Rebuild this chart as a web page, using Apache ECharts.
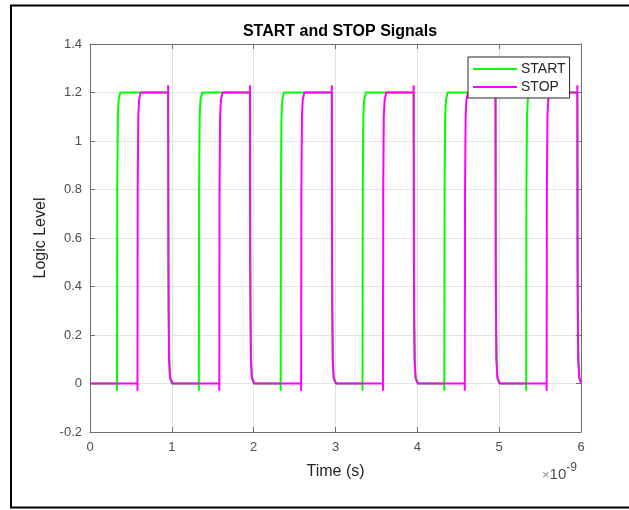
<!DOCTYPE html>
<html>
<head>
<meta charset="utf-8">
<script src="https://cdn.jsdelivr.net/npm/echarts@6/dist/echarts.min.js"></script>
<style>
  html, body { margin: 0; padding: 0; background: #fff; }
  #chart { width: 629px; height: 510px; }
</style>
</head>
<body>
<div id="chart"></div>
<script>
// time in ns (axis shows x10^-9 s), level in V
const startWave = [
  [0, 0],
  [0.33, 0], [0.33, -0.03], [0.333, 0.8], [0.34, 1.1], [0.35, 1.17], [0.37, 1.2], [0.955, 1.2], [0.96, 0.3], [0.975, 0.03], [1.0, 0],
  [1.33, 0], [1.33, -0.03], [1.333, 0.8], [1.34, 1.1], [1.35, 1.17], [1.37, 1.2], [1.955, 1.2], [1.96, 0.3], [1.975, 0.03], [2.0, 0],
  [2.33, 0], [2.33, -0.03], [2.333, 0.8], [2.34, 1.1], [2.35, 1.17], [2.37, 1.2], [2.955, 1.2], [2.96, 0.3], [2.975, 0.03], [3.0, 0],
  [3.33, 0], [3.33, -0.03], [3.333, 0.8], [3.34, 1.1], [3.35, 1.17], [3.37, 1.2], [3.955, 1.2], [3.96, 0.3], [3.975, 0.03], [4.0, 0],
  [4.33, 0], [4.33, -0.03], [4.333, 0.8], [4.34, 1.1], [4.35, 1.17], [4.37, 1.2], [4.955, 1.2], [4.96, 0.3], [4.975, 0.03], [5.0, 0],
  [5.33, 0], [5.33, -0.03], [5.333, 0.8], [5.34, 1.1], [5.35, 1.17], [5.37, 1.2], [5.955, 1.2], [5.96, 0.3], [5.975, 0.03], [6.0, 0]
]

const stopWave = [
  [0, 0],
  [0.58, 0], [0.58, -0.03], [0.583, 0.8], [0.59, 1.1], [0.6, 1.17], [0.62, 1.2], [0.955, 1.2], [0.955, 1.23], [0.958, 0.5], [0.965, 0.1], [0.98, 0.02], [1.01, 0],
  [1.58, 0], [1.58, -0.03], [1.583, 0.8], [1.59, 1.1], [1.6, 1.17], [1.62, 1.2], [1.955, 1.2], [1.955, 1.23], [1.958, 0.5], [1.965, 0.1], [1.98, 0.02], [2.01, 0],
  [2.58, 0], [2.58, -0.03], [2.583, 0.8], [2.59, 1.1], [2.6, 1.17], [2.62, 1.2], [2.955, 1.2], [2.955, 1.23], [2.958, 0.5], [2.965, 0.1], [2.98, 0.02], [3.01, 0],
  [3.58, 0], [3.58, -0.03], [3.583, 0.8], [3.59, 1.1], [3.6, 1.17], [3.62, 1.2], [3.955, 1.2], [3.955, 1.23], [3.958, 0.5], [3.965, 0.1], [3.98, 0.02], [4.01, 0],
  [4.58, 0], [4.58, -0.03], [4.583, 0.8], [4.59, 1.1], [4.6, 1.17], [4.62, 1.2], [4.955, 1.2], [4.955, 1.23], [4.958, 0.5], [4.965, 0.1], [4.98, 0.02], [5.01, 0],
  [5.58, 0], [5.58, -0.03], [5.583, 0.8], [5.59, 1.1], [5.6, 1.17], [5.62, 1.2], [5.955, 1.2], [5.955, 1.23], [5.958, 0.5], [5.965, 0.1], [5.98, 0.02], [6.01, 0]
]

const seriesNames = ['START', 'STOP']
const seriesColors = ['#00ff00', '#ff00ff']

const font = 'Liberation Sans, Arial, Helvetica, sans-serif'
const boxColor = '#6e6e6e'
const gridColor = '#e3e3e3'
const labelColor = '#4d4d4d'

const fmt = v => String(Math.round(v * 10) / 10)

const chart = echarts.init(document.getElementById('chart'))

const xBase = {
  type: 'value', min: 0, max: 6, interval: 1,
  axisLine: { onZero: false, lineStyle: { color: boxColor, width: 1 } },
  axisTick: { inside: true, length: 5, lineStyle: { color: boxColor } },
  splitLine: { show: false }
}
const yBase = {
  type: 'value', min: -0.2, max: 1.4, interval: 0.2,
  axisLine: { show: true, onZero: false, lineStyle: { color: boxColor, width: 1 } },
  axisTick: { show: true, inside: true, length: 5, lineStyle: { color: boxColor } },
  splitLine: { show: false }
}

chart.setOption({
  animation: false,
  backgroundColor: '#fff',
  title: {
    text: 'START and STOP Signals',
    left: 335, top: 19, textAlign: 'center',
    textStyle: { fontFamily: font, fontSize: 16, fontWeight: 'bold', color: '#000' }
  },
  grid: { left: 90, right: 48, top: 44, bottom: 78, containLabel: false },
  legend: {
    data: seriesNames,
    orient: 'vertical',
    left: 468, top: 57,
    padding: [5, 4, 4, 5],
    itemGap: 4,
    itemWidth: 44, itemHeight: 2,
    icon: 'rect',
    borderColor: '#262626', borderWidth: 1,
    backgroundColor: '#fff',
    textStyle: { fontFamily: font, fontSize: 14, color: '#262626', padding: [0, 0, 0, -1] }
  },
  xAxis: [
    Object.assign({}, xBase, {
      position: 'bottom',
      name: 'Time (s)', nameLocation: 'middle', nameGap: 32,
      nameTextStyle: { fontFamily: font, fontSize: 16, color: '#262626' },
      axisLabel: { fontFamily: font, fontSize: 13, color: labelColor, margin: 9, formatter: fmt },
      splitLine: { show: true, lineStyle: { color: gridColor, width: 1 } }
    }),
    Object.assign({}, xBase, { position: 'top', axisLabel: { show: false } })
  ],
  yAxis: [
    Object.assign({}, yBase, {
      position: 'left',
      name: 'Logic Level', nameLocation: 'middle', nameGap: 36,
      nameTextStyle: { fontFamily: font, fontSize: 16, color: '#262626' },
      axisLabel: { fontFamily: font, fontSize: 13, color: labelColor, margin: 8, formatter: fmt },
      splitLine: { show: true, lineStyle: { color: gridColor, width: 1 } }
    }),
    Object.assign({}, yBase, { position: 'right', axisLabel: { show: false } })
  ],
  graphic: [
    {
      type: 'rect', z: 100, silent: true,
      shape: { x: 11, y: 5.5, width: 640, height: 502 },
      style: { fill: 'none', stroke: '#000', lineWidth: 2 }
    },
    {
      type: 'text', left: 542, top: 462, silent: true,
      style: {
        text: '{a|×}{b|10}{c|-9}',
        rich: {
          a: { fontFamily: font, fontSize: 13, fill: '#8a8a8a', verticalAlign: 'bottom' },
          b: { fontFamily: font, fontSize: 15, fill: labelColor, verticalAlign: 'bottom' },
          c: { fontFamily: font, fontSize: 12, fill: labelColor, verticalAlign: 'top', padding: [0, 0, 8, 0] }
        }
      }
    }
  ],
  series: [
    {
      name: seriesNames[0], type: 'line', data: startWave,
      xAxisIndex: 0, yAxisIndex: 0,
      showSymbol: false, symbol: 'none',
      lineStyle: { color: seriesColors[0], width: 2 },
      itemStyle: { color: seriesColors[0] }
    },
    {
      name: seriesNames[1], type: 'line', data: stopWave,
      xAxisIndex: 0, yAxisIndex: 0,
      showSymbol: false, symbol: 'none',
      lineStyle: { color: seriesColors[1], width: 2 },
      itemStyle: { color: seriesColors[1] }
    }
  ]
})
</script>
</body>
</html>
